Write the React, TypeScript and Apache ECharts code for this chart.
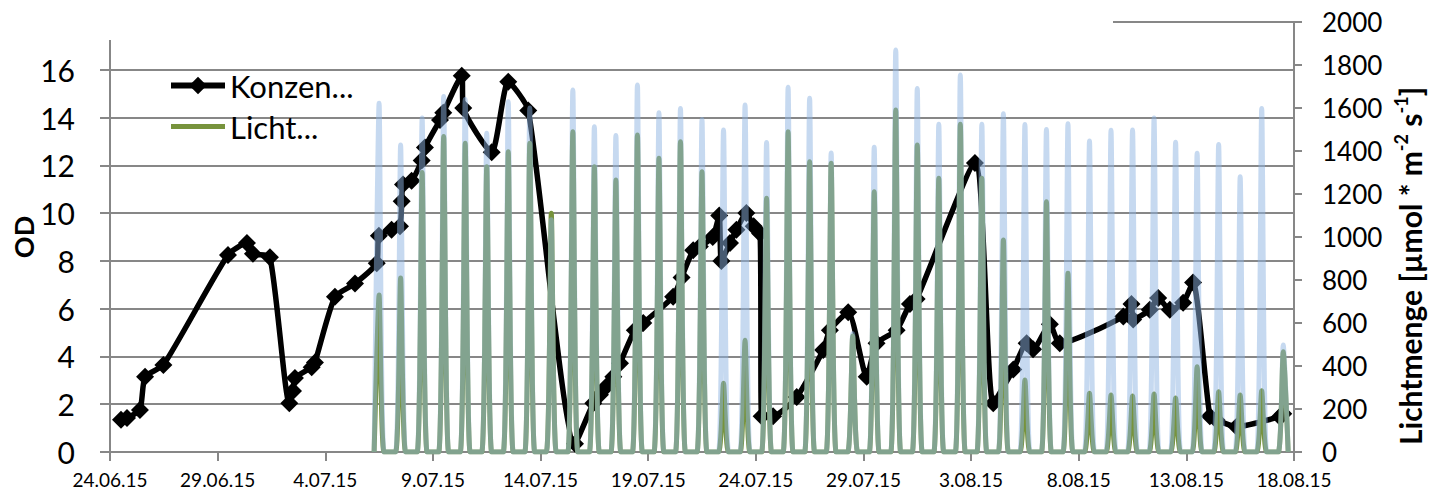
import React, { useEffect, useRef } from 'react';
import * as echarts from 'echarts';

// x tick labels (one every 5 days, starting 24.06.15 = day 0)
const dateLabels = ['24.06.15', '29.06.15', '4.07.15', '9.07.15', '14.07.15', '19.07.15', '24.07.15', '29.07.15', '3.08.15', '8.08.15', '13.08.15', '18.08.15'];

// OD (Konzentration) measurements: day offset from 24.06.15 and OD value
const odDays = [0.51, 0.79, 1.39, 1.63, 2.48, 5.48, 6.36, 6.64, 7.43, 8.33, 8.5, 8.59, 9.37, 9.52, 10.45, 11.38, 12.39, 12.49, 13.08, 13.47, 13.55, 13.61, 14.01, 14.48, 14.63, 15.33, 15.48, 16.34, 16.41, 17.73, 18.5, 19.43, 21.6, 22.45, 22.76, 23.07, 23.38, 23.69, 24.38, 24.77, 26.16, 26.55, 27.09, 27.4, 28.0, 28.3, 28.4, 28.8, 29.1, 29.56, 29.9, 30.2, 30.27, 30.8, 31.9, 33.13, 33.44, 34.29, 35.15, 35.61, 36.54, 37.16, 37.47, 40.18, 41.03, 41.96, 42.58, 42.88, 43.66, 44.12, 47.07, 47.45, 47.53, 48.3, 48.69, 49.23, 49.85, 50.31, 51.09, 51.4, 52.33, 54.34, 54.5];
const odValues = [1.35, 1.42, 1.76, 3.15, 3.64, 8.25, 8.75, 8.3, 8.15, 2.04, 2.55, 3.1, 3.55, 3.75, 6.5, 7.05, 7.9, 9.05, 9.3, 9.45, 10.5, 11.2, 11.35, 12.2, 12.75, 13.9, 14.2, 15.75, 14.4, 12.55, 15.5, 14.3, 0.35, 2.04, 2.4, 2.75, 3.15, 3.72, 5.1, 5.4, 6.5, 7.3, 8.45, 8.6, 9.0, 9.9, 8.0, 8.75, 9.3, 10.0, 9.45, 9.15, 1.5, 1.5, 2.3, 4.27, 5.1, 5.85, 3.15, 4.55, 5.1, 6.2, 6.4, 12.1, 2.04, 3.45, 4.55, 4.3, 5.35, 4.55, 5.67, 6.2, 5.55, 5.95, 6.45, 5.95, 6.25, 7.1, 1.5, 1.34, 1.06, 1.48, 1.6];

// Light: first day with light readings (6.07.15), daily noon peaks
const lightFirstDay = 12;
const lichtBluePeaks = [1622, 1428, 1553, 1653, 1640, 1483, 1629, 1600, 1080, 1684, 1513, 1472, 1707, 1578, 1598, 1547, 1498, 1614, 1439, 1696, 1645, 1391, 550, 1417, 1870, 1691, 1525, 1753, 1525, 1573, 1523, 1500, 1527, 1446, 1496, 1498, 1553, 1441, 1389, 1430, 1280, 1598, 498];
const lichtGreenPeaks = [730, 809, 1300, 1467, 1436, 1327, 1397, 1436, 1110, 1490, 1327, 1265, 1474, 1366, 1443, 1304, 320, 520, 1180, 1490, 1350, 1343, 540, 1211, 1591, 1428, 1273, 1525, 1273, 986, 335, 1164, 831, 273, 265, 260, 270, 251, 397, 280, 265, 285, 466];

const FONT = 'Lato, "Liberation Sans", sans-serif';
const GRID_GRAY = '#878787';

export default function App() {
  const ref = useRef<HTMLDivElement>(null);

  useEffect(() => {
    const chart = echarts.init(ref.current!, null, { renderer: 'svg' });
    const odData = odDays.map((d, i) => [d, odValues[i]]);
    const daily = (peaks: number[]) =>
      peaks.flatMap((p, k) => {
        const d = lightFirstDay + k;
        return [[d + 0.27, 0], [d + 0.5, p], [d + 0.73, 0]];
      });

    chart.setOption({
      animation: false,
      grid: { left: 110, right: 145, top: 22, bottom: 39, containLabel: false },
      legend: {
        left: 168,
        top: 70,
        orient: 'vertical',
        padding: 0,
        itemWidth: 54,
        itemHeight: 22,
        itemGap: 10,
        data: [
          { name: 'Konzen...', lineStyle: { width: 6, color: '#000' } },
          { name: 'Licht...', itemStyle: { opacity: 0 }, lineStyle: { width: 5, color: '#77933C' } },
        ],
        textStyle: { fontFamily: FONT, fontSize: 31, color: '#000' },
      },
      xAxis: {
        type: 'value',
        min: 0,
        max: 55,
        interval: 5,
        axisLine: { lineStyle: { color: GRID_GRAY, width: 2 } },
        axisTick: { show: true, inside: false, length: 9, lineStyle: { color: GRID_GRAY, width: 2 } },
        axisLabel: {
          margin: 18,
          fontFamily: FONT,
          fontSize: 19,
          color: '#000',
          formatter: (v: number) => dateLabels[Math.round(v / 5)] ?? '',
        },
        splitLine: { show: false },
      },
      yAxis: [
        {
          type: 'value',
          position: 'left',
          min: 0,
          max: 18,
          interval: 2,
          axisLine: { show: true, lineStyle: { color: GRID_GRAY, width: 2 } },
          axisTick: { show: true, inside: false, length: 10, lineStyle: { color: GRID_GRAY, width: 2 } },
          axisLabel: {
            margin: 35,
            fontFamily: FONT,
            fontSize: 30,
            color: '#000',
            formatter: (v: number) => (v >= 18 ? '' : String(v)),
          },
          splitLine: { show: true, lineStyle: { color: GRID_GRAY, width: 2 } },
        },
        {
          type: 'value',
          position: 'right',
          min: 0,
          max: 2000,
          interval: 200,
          axisLine: { show: true, lineStyle: { color: GRID_GRAY, width: 2 } },
          axisTick: { show: true, inside: false, length: 8, lineStyle: { color: GRID_GRAY, width: 2 } },
          axisLabel: { margin: 28, fontFamily: FONT, fontSize: 26, color: '#000', formatter: (v: number) => String(v) },
          splitLine: { show: false },
        },
      ],
      series: [
        {
          name: 'Konzen...',
          type: 'line',
          yAxisIndex: 0,
          data: odData,
          symbol: 'diamond',
          symbolSize: 18,
          smooth: 0.2,
          lineStyle: { color: '#000', width: 5.5 },
          itemStyle: { color: '#000' },
          z: 2,
        },
        {
          name: 'Licht...',
          type: 'line',
          yAxisIndex: 1,
          data: daily(lichtGreenPeaks),
          symbol: 'none',
          smooth: 0.2,
          lineStyle: { color: '#77933C', width: 5 },
          itemStyle: { color: '#77933C' },
          z: 3,
        },
        {
          name: 'Lichtmenge',
          type: 'line',
          yAxisIndex: 1,
          data: daily(lichtBluePeaks),
          symbol: 'none',
          smooth: 0.2,
          lineStyle: { color: '#8DB3E2', width: 5, opacity: 0.5 },
          itemStyle: { color: '#8DB3E2' },
          z: 4,
        },
      ],
      graphic: [
        { type: 'rect', z: 100, shape: { x: 95, y: 0, width: 1018, height: 40 }, style: { fill: '#fff' } },
        {
          type: 'text',
          z: 100,
          x: 23,
          y: 237,
          rotation: Math.PI / 2,
          style: { text: 'OD', fontFamily: FONT, fontWeight: 'bold', fontSize: 27, fill: '#000', align: 'center', verticalAlign: 'middle' },
        },
        {
          type: 'text',
          z: 100,
          x: 1410,
          y: 266,
          rotation: Math.PI / 2,
          style: {
            text: '{a|Lichtmenge [µmol * m}{s|-2}{a| s}{s|-1}{a|]}',
            fill: '#000',
            align: 'center',
            verticalAlign: 'middle',
            rich: {
              a: { fontFamily: FONT, fontWeight: 'bold', fontSize: 30, lineHeight: 36, fill: '#000' },
              s: { fontFamily: FONT, fontWeight: 'bold', fontSize: 18, lineHeight: 16, verticalAlign: 'top', fill: '#000' },
            },
          },
        },
      ],
    });
    return () => chart.dispose();
  }, []);

  return <div ref={ref} style={{ position: 'absolute', left: 0, top: 0, width: 1439, height: 491 }} />;
}
